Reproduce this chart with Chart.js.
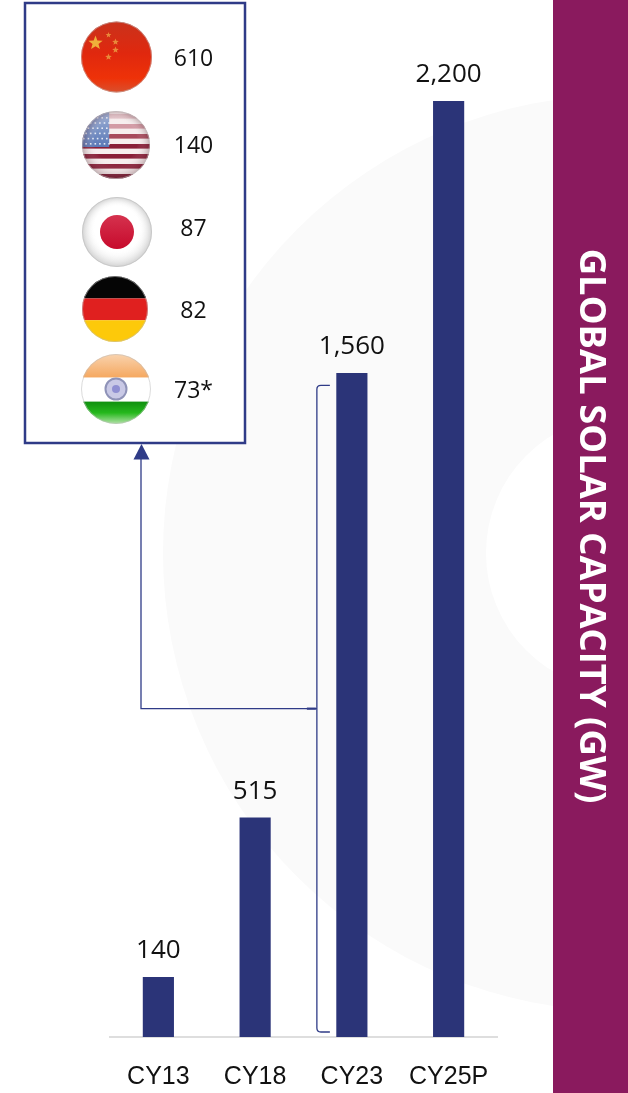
<!DOCTYPE html>
<html>
<head>
<meta charset="utf-8">
<style>
  html, body { margin: 0; padding: 0; background: #fff; }
  #wrap { position: relative; width: 628px; height: 1093px; overflow: hidden; }
</style>
<script src="https://cdn.jsdelivr.net/npm/chart.js@4/dist/chart.umd.min.js"></script>
</head>
<body>
<div id="wrap"><canvas id="solarChart" width="628" height="1093"></canvas></div>
<script>
const years = ["CY13", "CY18", "CY23", "CY25P"];
const capacity = [140, 515, 1560, 2200];
const countries = ["China", "USA", "Japan", "Germany", "India"];
const countryLabels = ["610", "140", "87", "82", "73*"];
const sideTitle = "GLOBAL SOLAR CAPACITY (GW)";

const NAVY = "#2b3478";
const LINE = "#2f3b87";
const BAND = "#8a1a5e";
const VALUE_FONT = "26px 'Open Sans'";

// flag discs: centre x, centre y, radius
const flagSpots = [[116.5, 57, 35.5], [116, 145, 34], [117, 232, 35], [115, 309, 33], [116, 389, 35]];
const labelY = [59, 146, 229, 311, 391];

function disc(ctx, x, y, r, paint) {
  ctx.save();
  ctx.beginPath();
  ctx.arc(x, y, r, 0, Math.PI * 2);
  ctx.clip();
  ctx.filter = "blur(0.7px)";
  paint();
  ctx.restore();
}

function gloss(ctx, x, y, r, edge) {
  const g = ctx.createRadialGradient(x, y - r * 0.1, r * 0.62, x, y, r);
  g.addColorStop(0, "rgba(255,255,255,0)");
  g.addColorStop(1, edge);
  ctx.fillStyle = g;
  ctx.fillRect(x - r, y - r, r * 2, r * 2);
}

function star(ctx, x, y, r) {
  ctx.beginPath();
  for (let i = 0; i < 10; i++) {
    const a = -Math.PI / 2 + i * Math.PI / 5;
    const d = i % 2 ? r * 0.42 : r;
    ctx.lineTo(x + Math.cos(a) * d, y + Math.sin(a) * d);
  }
  ctx.closePath();
  ctx.fill();
}

const flagPainters = {
  China(ctx, x, y, r) {
    const g = ctx.createLinearGradient(0, y - r, 0, y + r);
    g.addColorStop(0, "#c9321c");
    g.addColorStop(0.45, "#e0280e");
    g.addColorStop(0.8, "#ee3208");
    g.addColorStop(1, "#d9502e");
    ctx.fillStyle = g;
    ctx.fillRect(x - r, y - r - 2, r * 2, r * 2 + 4);
    ctx.fillStyle = "#efb03a";
    star(ctx, x - 21, y - 14, 7.5);
    ctx.fillStyle = "#e98a3a";
    star(ctx, x - 8, y - 22, 3);
    star(ctx, x - 1, y - 15, 3.5);
    star(ctx, x - 1, y - 7, 3.5);
    star(ctx, x - 8, y + 0, 3.5);
  },
  USA(ctx, x, y, r) {
    ctx.fillStyle = "#f7eeee";
    ctx.fillRect(x - r - 2, y - r - 2, r * 2 + 4, r * 2 + 4);
    const tones = ["#e3c3c8", "#d39aa4", "#a84a5c", "#8a1f38", "#8a1f38", "#8a1f38", "#7a1c34"];
    tones.forEach((tone, i) => {
      ctx.fillStyle = tone;
      ctx.fillRect(x - r - 2, y - 31 + i * 10, r * 2 + 4, 4.6);
    });
    const c = ctx.createLinearGradient(0, y - r, 0, y + 2);
    c.addColorStop(0, "#9db0d6");
    c.addColorStop(1, "#5a78b6");
    ctx.fillStyle = c;
    ctx.fillRect(x - r - 2, y - r - 2, r * 0.8 + 2, r + 4);
    ctx.fillStyle = "#e6ebf5";
    for (let row = 0; row < 6; row++) {
      for (let col = 0; col < 6; col++) {
        ctx.fillRect(x - r + 1 + col * 4.6 + (row % 2) * 2.3, y - r + 6 + row * 5.2, 1.6, 1.6);
      }
    }
    gloss(ctx, x, y, r, "rgba(80,30,40,0.3)");
  },
  Japan(ctx, x, y, r) {
    ctx.fillStyle = "#fff";
    ctx.fillRect(x - r - 2, y - r - 2, r * 2 + 4, r * 2 + 4);
    const g = ctx.createLinearGradient(0, y - 17, 0, y + 17);
    g.addColorStop(0, "#d5324e");
    g.addColorStop(1, "#c70a2c");
    ctx.fillStyle = g;
    ctx.beginPath();
    ctx.arc(x, y, 17, 0, Math.PI * 2);
    ctx.fill();
    gloss(ctx, x, y, r, "rgba(120,120,120,0.35)");
  },
  Germany(ctx, x, y, r) {
    ctx.fillStyle = "#050505";
    ctx.fillRect(x - r - 2, y - r - 2, r * 2 + 4, r * 0.68 + 2);
    ctx.fillStyle = "#e0201f";
    ctx.fillRect(x - r - 2, y - r * 0.32, r * 2 + 4, r * 0.66);
    ctx.fillStyle = "#fdc90a";
    ctx.fillRect(x - r - 2, y + r * 0.34, r * 2 + 4, r * 0.66 + 2);
  },
  India(ctx, x, y, r) {
    ctx.fillStyle = "#fff";
    ctx.fillRect(x - r - 2, y - r - 2, r * 2 + 4, r * 2 + 4);
    let g = ctx.createLinearGradient(0, y - r, 0, y - r * 0.33);
    g.addColorStop(0, "#f9d3ae");
    g.addColorStop(1, "#f5a860");
    ctx.fillStyle = g;
    ctx.fillRect(x - r - 2, y - r - 2, r * 2 + 4, r * 0.67 + 2);
    g = ctx.createLinearGradient(0, y + r * 0.36, 0, y + r);
    g.addColorStop(0, "#0f8f0f");
    g.addColorStop(0.5, "#25b81c");
    g.addColorStop(1, "#b5e2aa");
    ctx.fillStyle = g;
    ctx.fillRect(x - r - 2, y + r * 0.36, r * 2 + 4, r * 0.64 + 2);
    ctx.fillStyle = "#c9c9e6";
    ctx.strokeStyle = "#8f93b8";
    ctx.lineWidth = 2;
    ctx.beginPath();
    ctx.arc(x, y, 10.5, 0, Math.PI * 2);
    ctx.fill();
    ctx.stroke();
    ctx.fillStyle = "#8f8fd2";
    ctx.beginPath();
    ctx.arc(x, y, 4, 0, Math.PI * 2);
    ctx.fill();
  }
};

// backdrop: pale ring, right hand band and title
const backdrop = {
  id: "backdrop",
  beforeDraw(chart) {
    const ctx = chart.ctx;
    ctx.save();
    ctx.fillStyle = "#fff";
    ctx.fillRect(0, 0, 628, 1093);
    ctx.fillStyle = "#fafafa";
    ctx.beginPath();
    ctx.arc(621, 553, 458, 0, Math.PI * 2);
    ctx.fill();
    ctx.fillStyle = "#fff";
    ctx.beginPath();
    ctx.arc(624, 553, 138, 0, Math.PI * 2);
    ctx.fill();
    ctx.fillStyle = BAND;
    ctx.fillRect(553, 0, 75, 1093);
    ctx.translate(590, 526);
    ctx.rotate(Math.PI / 2);
    ctx.fillStyle = "#fff";
    ctx.font = "bold 36.4px 'Open Sans'";
    ctx.textAlign = "center";
    ctx.textBaseline = "middle";
    ctx.fillText(sideTitle, 0, 0);
    ctx.restore();
  }
};

// value labels, bracket + arrow on CY23, and the country panel
const overlays = {
  id: "overlays",
  afterDraw(chart) {
    const ctx = chart.ctx;
    const bars = chart.getDatasetMeta(0).data;
    const yScale = chart.scales.y;
    ctx.save();

    ctx.fillStyle = "#111";
    ctx.font = VALUE_FONT;
    ctx.textAlign = "center";
    ctx.textBaseline = "alphabetic";
    bars.forEach((bar, i) => {
      ctx.fillText(capacity[i].toLocaleString("en-US"), bar.x, bar.y - 19);
    });

    // bracket next to the CY23 bar
    const b = bars[2];
    const bx = b.x - 35;
    const top = b.y + 12;
    const bottom = yScale.getPixelForValue(0) - 5;
    const mid = (top + bottom) / 2;
    ctx.strokeStyle = LINE;
    ctx.lineWidth = 1.3;
    ctx.beginPath();
    ctx.moveTo(bx + 13, top);
    ctx.lineTo(bx + 4, top);
    ctx.quadraticCurveTo(bx, top, bx, top + 4);
    ctx.lineTo(bx, bottom - 4);
    ctx.quadraticCurveTo(bx, bottom, bx + 4, bottom);
    ctx.lineTo(bx + 13, bottom);
    ctx.stroke();

    ctx.beginPath();
    ctx.moveTo(bx, mid);
    ctx.lineTo(141, mid);
    ctx.lineTo(141, 458);
    ctx.stroke();
    ctx.lineWidth = 2.2;
    ctx.beginPath();
    ctx.moveTo(bx - 10, mid);
    ctx.lineTo(bx - 1, mid);
    ctx.stroke();
    ctx.fillStyle = LINE;
    ctx.beginPath();
    ctx.moveTo(141.5, 444);
    ctx.lineTo(149.5, 459.5);
    ctx.lineTo(133.5, 459.5);
    ctx.closePath();
    ctx.fill();

    // country panel
    ctx.fillStyle = "#fff";
    ctx.fillRect(25, 4, 220, 438);
    ctx.strokeStyle = LINE;
    ctx.lineWidth = 2.5;
    ctx.strokeRect(25, 3, 220, 440);

    countries.forEach((name, i) => {
      const [x, y, r] = flagSpots[i];
      disc(ctx, x, y, r, () => flagPainters[name](ctx, x, y, r));
      ctx.strokeStyle = "rgba(190,190,190,0.55)";
      ctx.lineWidth = 1;
      ctx.beginPath();
      ctx.arc(x, y, r - 0.5, 0, Math.PI * 2);
      ctx.stroke();
      ctx.fillStyle = "#111";
      ctx.font = "23px 'Open Sans'";
      ctx.textAlign = "center";
      ctx.textBaseline = "middle";
      ctx.fillText(countryLabels[i], 193.5, labelY[i]);
    });
    ctx.restore();
  }
};

new Chart(document.getElementById("solarChart").getContext("2d"), {
  type: "bar",
  data: {
    labels: years,
    datasets: [{
      data: capacity,
      backgroundColor: NAVY,
      borderWidth: 0,
      barThickness: 30.5
    }]
  },
  options: {
    responsive: false,
    animation: false,
    devicePixelRatio: 1,
    layout: { padding: { left: 110, right: 131, top: 101, bottom: 0 } },
    plugins: { legend: { display: false }, tooltip: { enabled: false } },
    scales: {
      x: {
        afterFit(axis) { axis.height = 56; },
        grid: { display: false, drawTicks: false },
        border: { color: "#dedede", width: 2 },
        ticks: {
          color: "#111",
          padding: 25,
          maxRotation: 0,
          font: { family: "'Liberation Sans'", size: 25 }
        }
      },
      y: { display: false, min: 0, max: 2200 }
    }
  },
  plugins: [backdrop, overlays]
});
</script>
</body>
</html>
